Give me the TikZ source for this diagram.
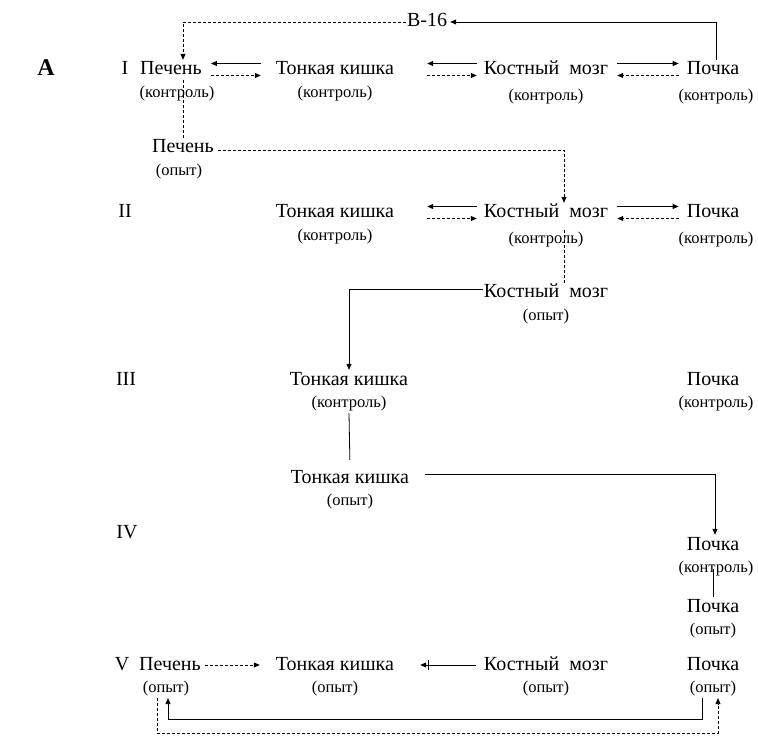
\documentclass[tikz,border=0pt]{standalone}
\usepackage{fontspec}
\setmainfont{Liberation Serif}
\usetikzlibrary{arrows.meta,positioning}
\tikzset{
  organ/.style={inner sep=1pt,font=\fontsize{20}{22}\selectfont,text height=14pt,text depth=4pt},
  org_sub/.style={inner sep=1pt,font=\fontsize{16.5}{18}\selectfont,text height=12pt,text depth=4.5pt},
  row_lbl/.style={inner sep=1pt,font=\fontsize{20}{22}\selectfont,text height=14pt,text depth=4pt},
  arr/.style={-{Triangle[length=6pt,width=5pt]},line width=0.8pt},
  arr_d/.style={arr,dash pattern=on 3pt off 2pt},
  arr_bar/.style={-{Bar[width=10pt,sep=2pt]Triangle[length=6pt,width=5pt]},line width=0.8pt},
  ln/.style={line width=0.8pt},
  ln_d/.style={ln,dash pattern=on 3pt off 2pt},
}
\begin{document}
\begin{tikzpicture}[x=1pt,y=-1pt,node distance=4pt]
    \useasboundingbox (0,0) rectangle (758,754);
    \node[font=\fontsize{24}{26}\selectfont\bfseries] (lblA) at (46,68) {A};
    \node[organ] (b16) at (427,22) {B-16};
    \node[row_lbl] (r1) at (125,70) {I};
    \node[organ] (pe1) at (171,70) {Печень};
    \node[org_sub,below=of pe1,xshift=6pt] (pe1s) {(контроль)};
    \node[organ] (tk1) at (335,70) {Тонкая кишка};
    \node[org_sub,below=of tk1] (tk1s) {(контроль)};
    \node[organ] (kb1) at (546,70) {Костный\ \ мозг};
    \node[org_sub,below=of kb1,yshift=-3pt] (kb1s) {(контроль)};
    \node[organ] (po1) at (713,70) {Почка};
    \node[org_sub,below=of po1,xshift=3pt,yshift=-3pt] (po1s) {(контроль)};
    \node[organ] (pe2) at (183,148) {Печень};
    \node[org_sub,below=of pe2,xshift=-4pt] (pe2s) {(опыт)};
    \node[row_lbl] (r2) at (125,213) {II};
    \node[organ] (tk2) at (335,213) {Тонкая кишка};
    \node[org_sub,below=of tk2] (tk2s) {(контроль)};
    \node[organ] (kb2) at (546,213) {Костный\ \ мозг};
    \node[org_sub,below=of kb2,yshift=-3pt] (kb2s) {(контроль)};
    \node[organ] (po2) at (713,213) {Почка};
    \node[org_sub,below=of po2,xshift=3pt,yshift=-3pt] (po2s) {(контроль)};
    \node[organ] (kb3) at (546,293) {Костный\ \ мозг};
    \node[org_sub,below=of kb3] (kb3s) {(опыт)};
    \node[row_lbl] (r3) at (126,380) {III};
    \node[organ] (tk3) at (349,380) {Тонкая кишка};
    \node[org_sub,below=of tk3] (tk3s) {(контроль)};
    \node[organ] (po3) at (713,380) {Почка};
    \node[org_sub,below=of po3,xshift=3pt] (po3s) {(контроль)};
    \node[organ] (tk4) at (350,478) {Тонкая кишка};
    \node[org_sub,below=of tk4] (tk4s) {(опыт)};
    \node[row_lbl] (r4) at (127,533) {IV};
    \node[organ] (po4) at (713,545) {Почка};
    \node[org_sub,below=of po4,xshift=3pt] (po4s) {(контроль)};
    \node[organ] (po5) at (713,607) {Почка};
    \node[org_sub,below=of po5] (po5s) {(опыт)};
    \node[row_lbl] (r5) at (122,665) {V};
    \node[organ] (pe6) at (170,665) {Печень};
    \node[org_sub,below=of pe6,xshift=-4pt] (pe6s) {(опыт)};
    \node[organ] (tk6) at (335,665) {Тонкая кишка};
    \node[org_sub,below=of tk6] (tk6s) {(опыт)};
    \node[organ] (kb6) at (546,665) {Костный\ \ мозг};
    \node[org_sub,below=of kb6] (kb6s) {(опыт)};
    \node[organ] (po6) at (713,665) {Почка};
    \node[org_sub,below=of po6] (po6s) {(опыт)};
    \draw[arr_d] (b16.west) -| (pe1.north -| pe2.north);\draw[arr,shorten >=2pt] ([xshift=3pt]po1.north) |- (b16.east);
    \draw[arr,shorten <=14pt,shorten >=8pt] ([yshift=6.5pt]tk1.west) -- ([yshift=6.5pt]pe1.east);\draw[arr_d,shorten <=8pt,shorten >=14pt] ([yshift=-5.5pt]pe1.east) -- ([yshift=-5.5pt]tk1.west);
    \draw[arr,shorten <=6pt,shorten >=32pt] ([yshift=6.5pt]kb1.west) -- ([yshift=6.5pt]tk1.east);\draw[arr_d,shorten <=32pt,shorten >=6pt] ([yshift=-5.5pt]tk1.east) -- ([yshift=-5.5pt]kb1.west);
    \draw[arr,shorten <=8pt,shorten >=7pt] ([yshift=6.5pt]kb1.east) -- ([yshift=6.5pt]po1.west);\draw[arr_d,shorten <=7pt,shorten >=8pt] ([yshift=-5.5pt]po1.west) -- ([yshift=-5.5pt]kb1.east);
    \draw[ln_d] (pe1.south -| pe2.north) -- (pe2.north);
    \draw[arr_d,shorten <=3pt] ([yshift=-2pt]pe2.east) -| ([xshift=18pt]kb2.north);
    \draw[arr,shorten <=6pt,shorten >=32pt] ([yshift=6.5pt]kb2.west) -- ([yshift=6.5pt]tk2.east);\draw[arr_d,shorten <=32pt,shorten >=6pt] ([yshift=-5.5pt]tk2.east) -- ([yshift=-5.5pt]kb2.west);
    \draw[arr,shorten <=8pt,shorten >=7pt] ([yshift=6.5pt]kb2.east) -- ([yshift=6.5pt]po2.west);\draw[arr_d,shorten <=7pt,shorten >=8pt] ([yshift=-5.5pt]po2.west) -- ([yshift=-5.5pt]kb2.east);
    \draw[ln_d] ([xshift=18pt]kb2s.north) -- ([xshift=18pt]kb3.north);
    \draw[arr] ([yshift=4pt]kb3.west) -| (tk3.north);
    \draw[ln,shorten >=8pt] (tk3s.south) -- (tk4.north);
    \draw[arr,shorten <=15pt] ([yshift=4pt]tk4.east) -| ([xshift=2pt]po4.north);
    \draw[ln] (po4s.center -| po4.south) -- (po5.north);
    \draw[arr_d,shorten <=3pt,shorten >=15pt] (pe6.east) -- (tk6.west);
    \draw[arr_bar,shorten <=7pt,shorten >=25pt] (kb6.west) -- (tk6.east);
    \draw[arr] ([xshift=-11pt]po6s.south) |- ([xshift=2pt,yshift=-21pt]pe6s.south) -- ([xshift=2pt]pe6s.south);
    \draw[arr_d] ([xshift=-9pt]pe6s.south) |- ([xshift=5pt,yshift=-35pt]po6s.south) -- ([xshift=5pt]po6s.south);
  \end{tikzpicture}
\end{document}
